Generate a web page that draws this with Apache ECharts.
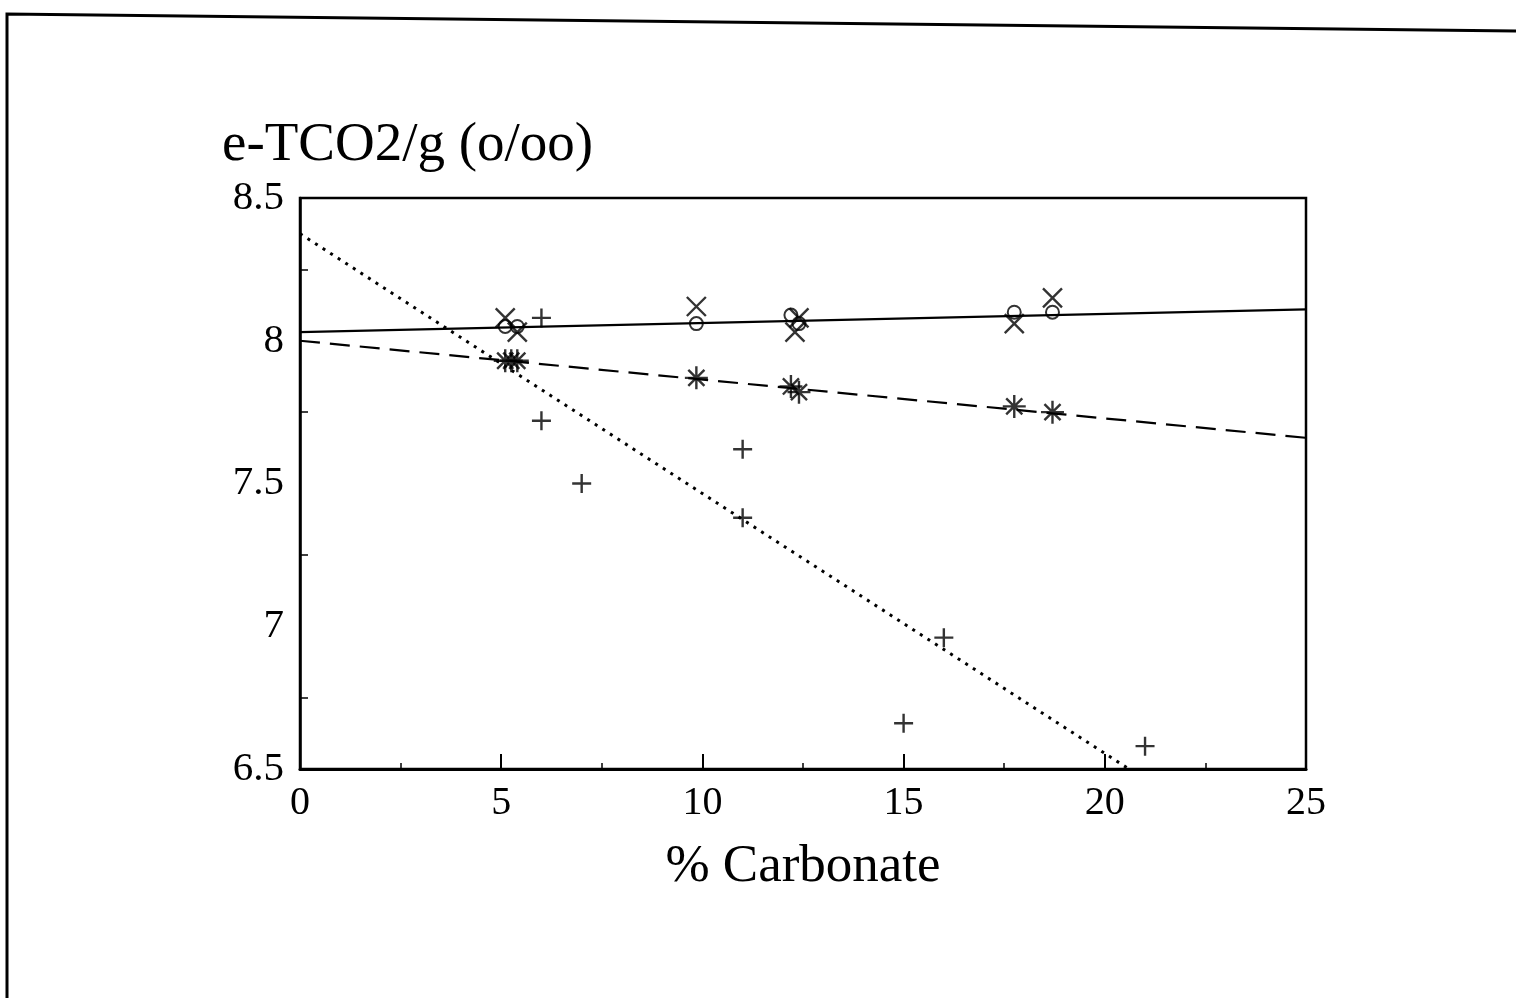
<!DOCTYPE html>
<html>
<head>
<meta charset="utf-8">
<script src="https://cdn.jsdelivr.net/npm/echarts@6/dist/echarts.min.js"></script>
<style>
html,body{margin:0;padding:0;background:#fff;}
#c{width:1516px;height:998px;}
</style>
</head>
<body>
<div id="c"></div>
<script>
// ---- data ----
const xTicks = [0, 5, 10, 15, 20, 25];
const yTicks = [6.5, 7, 7.5, 8, 8.5];

const plusX = [6, 6, 7, 11, 11, 15, 16, 21];
const plusY = [8.08, 7.72, 7.50, 7.62, 7.38, 6.66, 6.96, 6.58];

const circleX = [5.1, 5.4, 9.85, 12.2, 12.4, 17.75, 18.7];
const circleY = [8.05, 8.05, 8.06, 8.09, 8.06, 8.10, 8.10];

const crossX = [5.1, 5.4, 9.85, 12.3, 12.4, 17.75, 18.7];
const crossY = [8.08, 8.03, 8.12, 8.03, 8.08, 8.06, 8.15];

const starX = [5.1, 5.25, 5.4, 9.85, 12.2, 12.4, 17.75, 18.7];
const starY = [7.93, 7.93, 7.93, 7.87, 7.84, 7.82, 7.77, 7.75];

const solidX = [0, 25];
const solidY = [8.03, 8.11];
const dashedX = [0, 25];
const dashedY = [8.00, 7.66];
const dottedX = [0, 20.6];
const dottedY = [8.375, 6.5];

const titleText = 'e-TCO2/g (o/oo)';
const xName = '% Carbonate';

// ---- build ----
const pair = (xs, ys) => xs.map((x, i) => [x, ys[i]]);
const FONT = '"Liberation Serif", "DejaVu Serif", serif';

const PLUS = 'path://M0,8H16M8,0V16';
const CROSS = 'path://M0,0L16,16M16,0L0,16';
const STAR = 'path://M0,10H20M10,0V20M3,3L17,17M17,3L3,17';

function markerSeries(data, symbol, size, width) {
  return {
    type: 'scatter',
    data: data,
    symbol: symbol,
    symbolSize: size,
    symbolKeepAspect: true,
    silent: true,
    itemStyle: { color: 'none', borderColor: '#000', borderWidth: width },
    z: 5
  };
}
function lineSeries(data, type, width) {
  return {
    type: 'line',
    data: data,
    showSymbol: false,
    silent: true,
    lineStyle: { color: '#000', width: width, type: type },
    z: 3
  };
}

const chart = echarts.init(document.getElementById('c'));
chart.setOption({
  animation: false,
  backgroundColor: '#fff',
  grid: {
    left: 300, right: 210, top: 198, bottom: 229,
    show: true, borderColor: '#000', borderWidth: 2.5, backgroundColor: 'transparent'
  },
  graphic: [
    {
      type: 'polyline',
      shape: { points: [[7, 998], [7, 14], [1516, 31]] },
      style: { stroke: '#000', lineWidth: 3, fill: 'none' },
      silent: true
    },
    {
      type: 'text',
      left: 222, top: 118,
      style: { text: titleText, font: '55px ' + FONT, fill: '#000' },
      silent: true
    }
  ],
  xAxis: {
    type: 'value',
    min: xTicks[0], max: xTicks[xTicks.length - 1], interval: 5,
    axisLine: { show: true, lineStyle: { color: '#000', width: 3 } },
    axisTick: { show: true, inside: true, length: 15, lineStyle: { color: '#000', width: 2 } },
    minorTick: { show: true, splitNumber: 2, length: 6, lineStyle: { color: '#000', width: 1.5 } },
    splitLine: { show: false },
    axisLabel: { color: '#000', fontSize: 40, fontFamily: FONT, margin: 14 },
    name: xName,
    nameLocation: 'middle',
    nameGap: 72,
    nameTextStyle: { color: '#000', fontSize: 53, fontFamily: FONT }
  },
  yAxis: {
    type: 'value',
    min: yTicks[0], max: yTicks[yTicks.length - 1], interval: 0.5,
    axisLine: { show: true, lineStyle: { color: '#000', width: 2.5 } },
    axisTick: { show: false, inside: true },
    minorTick: { show: true, splitNumber: 2, length: 8, lineStyle: { color: '#000', width: 1.5 } },
    splitLine: { show: false },
    axisLabel: { color: '#000', fontSize: 41, fontFamily: FONT, margin: 16 }
  },
  series: [
    lineSeries(pair(solidX, solidY), 'solid', 2.2),
    lineSeries(pair(dashedX, dashedY), [20, 10], 2.2),
    lineSeries(pair(dottedX, dottedY), [3, 6], 3),
    markerSeries(pair(plusX, plusY), PLUS, 19, 2.4),
    markerSeries(pair(circleX, circleY), 'circle', 13, 2),
    markerSeries(pair(crossX, crossY), CROSS, 19, 2.4),
    markerSeries(pair(starX, starY), STAR, 23, 2.4)
  ]
});
</script>
</body>
</html>
